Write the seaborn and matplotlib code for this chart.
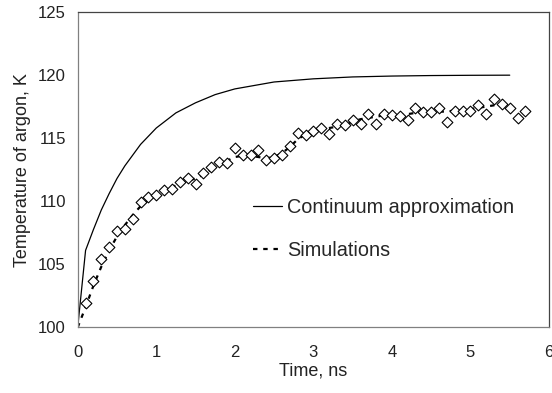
import matplotlib
matplotlib.use("Agg")
import matplotlib.pyplot as plt
import seaborn as sns
import pandas as pd

# ── Data ──────────────────────────────────────────────────────────────
continuum_t = [0.0, 0.1, 0.2, 0.3, 0.4, 0.5, 0.6, 0.8, 1.0, 1.25, 1.5, 1.75,
               2.0, 2.5, 3.0, 3.5, 4.0, 4.5, 5.0, 5.5]
continuum_T = [100.0, 106.1, 107.75, 109.3, 110.6, 111.8, 112.8, 114.5, 115.8,
               117.0, 117.8, 118.45, 118.9, 119.45, 119.7, 119.85, 119.92,
               119.96, 119.98, 119.99]

sim_fit_t = [0.0, 0.1, 0.2, 0.3, 0.4, 0.5, 0.6, 0.7, 0.8, 0.9, 1.0, 1.1, 1.2,
             1.3, 1.4, 1.5, 1.6, 1.7, 1.8, 1.9, 2.0, 2.1, 2.2, 2.3, 2.4, 2.5,
             2.6, 2.7, 2.8, 2.9, 3.0, 3.1, 3.2, 3.3, 3.4, 3.5, 3.6, 3.7, 3.8,
             3.9, 4.0, 4.1, 4.2, 4.3, 4.4, 4.5, 4.6, 4.7, 4.8, 4.9, 5.0, 5.1,
             5.2, 5.3, 5.4, 5.5]
sim_fit_T = [100.0, 101.6, 103.3, 104.8, 106.1, 107.2, 108.1, 108.9, 109.6,
             110.1, 110.5, 110.8, 111.1, 111.4, 111.6, 111.8, 112.1, 112.5,
             112.9, 113.2, 113.5, 113.6, 113.6, 113.5, 113.4, 113.5, 113.8,
             114.3, 114.9, 115.3, 115.6, 115.7, 115.8, 115.9, 116.1, 116.3,
             116.5, 116.6, 116.7, 116.8, 116.8, 116.9, 116.9, 117.0, 117.0,
             117.1, 117.1, 117.1, 117.2, 117.2, 117.3, 117.4, 117.5, 117.6,
             117.6, 117.6]

sim_t = [0.1, 0.2, 0.3, 0.4, 0.5, 0.6, 0.7, 0.8, 0.9, 1.0, 1.1, 1.2, 1.3, 1.4,
         1.5, 1.6, 1.7, 1.8, 1.9, 2.0, 2.1, 2.2, 2.3, 2.4, 2.5, 2.6, 2.7, 2.8,
         2.9, 3.0, 3.1, 3.2, 3.3, 3.4, 3.5, 3.6, 3.7, 3.8, 3.9, 4.0, 4.1, 4.2,
         4.3, 4.4, 4.5, 4.6, 4.7, 4.8, 4.9, 5.0, 5.1, 5.2, 5.3, 5.4, 5.5, 5.6,
         5.7]
sim_T = [101.9, 103.7, 105.4, 106.4, 107.6, 107.8, 108.6, 109.9, 110.3, 110.5,
         110.9, 111.0, 111.5, 111.8, 111.4, 112.2, 112.7, 113.1, 113.0, 114.2,
         113.7, 113.65, 114.05, 113.3, 113.4, 113.65, 114.4, 115.4, 115.25,
         115.6, 115.8, 115.3, 116.1, 116.0, 116.4, 116.1, 116.9, 116.1, 116.95,
         116.8, 116.75, 116.4, 117.35, 117.1, 117.1, 117.35, 116.3, 117.15,
         117.15, 117.15, 117.65, 116.9, 118.1, 117.7, 117.4, 116.6, 117.15]

x_ticks = [0, 1, 2, 3, 4, 5, 6]
y_ticks = [100, 105, 110, 115, 120, 125]

# ── Style ─────────────────────────────────────────────────────────────
sns.set_theme(style="white")
plt.rcParams["font.family"] = ["Liberation Sans", "DejaVu Sans"]

fig = plt.figure(figsize=(5.52, 3.93), dpi=100)
ax = fig.add_axes([0.1408, 0.1672, 0.8538, 0.8023])

cont_df = pd.DataFrame({"t": continuum_t, "T": continuum_T})
fit_df = pd.DataFrame({"t": sim_fit_t, "T": sim_fit_T})
pts_df = pd.DataFrame({"t": sim_t, "T": sim_T})

sns.lineplot(data=cont_df, x="t", y="T", ax=ax, color="black", linewidth=0.9,
             label="Continuum approximation")
sns.lineplot(data=fit_df, x="t", y="T", ax=ax, color="black", linewidth=1.6,
             dashes=False, label="Simulations")
ax.lines[-1].set_dashes([2.0, 2.6])
sns.scatterplot(data=pts_df, x="t", y="T", ax=ax, marker="D", s=30,
                facecolor="white", edgecolor="black", linewidth=0.8,
                zorder=3, legend=False)

ax.set_xlim(0, 6)
ax.set_ylim(100, 125)
ax.set_xticks(x_ticks)
ax.set_yticks(y_ticks)
ax.tick_params(axis="both", direction="out", length=4.5, width=0.8,
               color="#808080", labelsize=12, pad=4, labelcolor="#222222")
ax.tick_params(axis="x", pad=8)

for side in ["left", "bottom"]:
    ax.spines[side].set_color("#808080")
    ax.spines[side].set_linewidth(0.9)
for side in ["top", "right"]:
    ax.spines[side].set_color("#444444")
    ax.spines[side].set_linewidth(0.9)

ax.set_xlabel("Time, ns", fontsize=13, labelpad=2, color="#222222")
ax.set_ylabel("Temperature of argon, K", fontsize=13, labelpad=5,
              color="#222222")

ax.legend(loc="center left", bbox_to_anchor=(0.372, 0.312), frameon=False,
          fontsize=14.3, borderpad=0, borderaxespad=0, handlelength=1.45,
          handletextpad=0.25, labelspacing=1.2)

fig.savefig("out.png", dpi=100)
